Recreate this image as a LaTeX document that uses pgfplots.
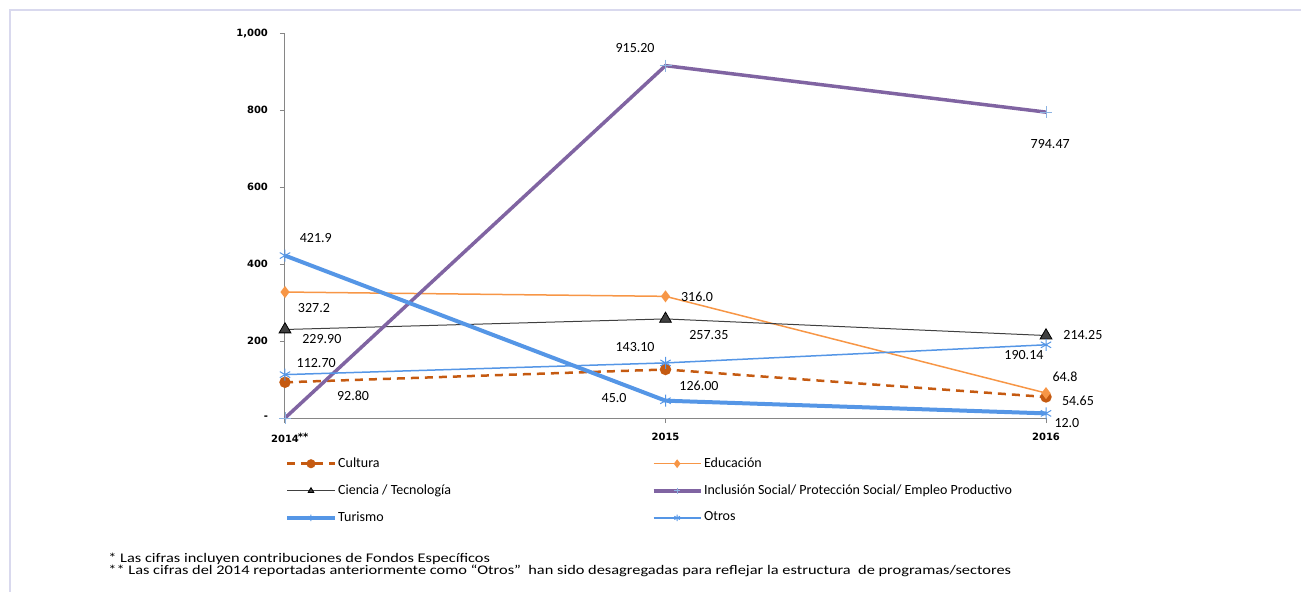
\documentclass[border=0pt]{standalone}
\usepackage{fontspec}
\setmainfont{Carlito}
\newfontfamily\tickfont{DejaVu Sans}
\usepackage{pgfplots}
\pgfplotsset{compat=1.18}

\definecolor{cult}{HTML}{C55A11}
\definecolor{educ}{HTML}{F79646}
\definecolor{cien}{HTML}{404040}
\definecolor{incl}{HTML}{8064A2}
\definecolor{inclmark}{HTML}{8DB4E2}
\definecolor{turi}{HTML}{5596E6}
\definecolor{axisgray}{HTML}{868686}
\definecolor{frame}{HTML}{D9D9EE}

\tikzset{lbl/.style={font=\fontsize{7}{8}\selectfont, inner sep=0pt}}

\begin{document}
\begin{tikzpicture}
\useasboundingbox (-142.5pt,-86.5pt) rectangle (508pt,209pt);
\draw[frame, line width=0.6pt] (-137.5pt,-90pt) -- (-137.5pt,204pt) -- (510pt,204pt);

\begin{axis}[
    at={(0,0)}, anchor=south west,
    scale only axis, width=380.5pt, height=192.5pt,
    xmin=0, xmax=2, ymin=0, ymax=1000,
    axis x line*=bottom, axis y line*=left,
    axis line style={draw=axisgray, line width=0.5pt},
    xtick={0,1,2}, xticklabels={2014\rlap{\kern-0.5pt\raisebox{1pt}{**}},2015,2016},
    ytick={0,200,...,1000}, yticklabels={-,200,400,600,800,{1,000}},
    tick align=outside, major tick length=2.5pt,
    tick style={axisgray, line width=0.5pt},
    ticklabel style={font=\tickfont\bfseries\fontsize{5}{6}\selectfont},
    yticklabel style={xshift=-2.5pt},
    xticklabel style={yshift=-1.5pt},
    clip=false,
    legend columns=2,
    legend cell align=left,
    legend style={at={(axis description cs:0.0,-0.097)}, anchor=north west,
        draw=none, fill=none, inner sep=0pt,
        font=\fontsize{7}{8}\selectfont,
        nodes={inner sep=0.8pt}, row sep=5.6pt},
    legend image code/.code={\draw[mark repeat=2,mark phase=2,mark size=1.6pt] plot coordinates {(0pt,0pt)(11.8pt,0pt)(23.6pt,0pt)};},
]
\addplot[cult, line width=1.25pt, dash pattern=on 4pt off 3pt, mark=*, mark size=2.2pt, mark options={solid, fill=cult, draw=cult}]
    coordinates {(0,92.80)(1,126.00)(2,54.65)};
\addlegendentry{\makebox[156pt][l]{Cultura}}
\addplot[educ, line width=0.75pt, mark=diamond*, mark size=2.4pt, mark options={fill=educ}]
    coordinates {(0,327.2)(1,316.0)(2,64.8)};
\addlegendentry{Educación}
\addplot[cien, line width=0.5pt, mark=triangle*, mark size=3.4pt, mark options={fill=cien, draw=black, line width=0.4pt}]
    coordinates {(0,229.90)(1,257.35)(2,214.25)};
\addlegendentry{\makebox[156pt][l]{Ciencia / Tecnología}}
\addplot[incl, line width=1.75pt, mark=+, mark size=3pt, mark options={draw=inclmark, line width=0.4pt}]
    coordinates {(0,0)(1,915.20)(2,794.47)};
\addlegendentry{Inclusión Social/ Protección Social/ Empleo Productivo}
\addplot[turi, line width=2pt, mark=asterisk, mark size=3pt, mark options={line width=0.5pt}]
    coordinates {(0,421.9)(1,45.0)(2,12.0)};
\addlegendentry{\makebox[156pt][l]{Turismo}}
\addplot[turi, line width=0.75pt, mark=asterisk, mark size=3pt, mark options={line width=0.5pt}]
    coordinates {(0,112.70)(1,143.10)(2,190.14)};
\addlegendentry{Otros}

\node[lbl] at (axis cs:0.081,467.5) {421.9};
\node[lbl] at (axis cs:0.076,286) {327.2};
\node[lbl] at (axis cs:0.097,205) {229.90};
\node[lbl] at (axis cs:0.082,143) {112.70};
\node[lbl] at (axis cs:0.179,57) {92.80};
\node[lbl] at (axis cs:0.92,961) {915.20};
\node[lbl] at (axis cs:1.083,314) {316.0};
\node[lbl] at (axis cs:1.114,216) {257.35};
\node[lbl] at (axis cs:0.92,184) {143.10};
\node[lbl] at (axis cs:1.088,83) {126.00};
\node[lbl] at (axis cs:0.865,52) {45.0};
\node[lbl] at (axis cs:2.011,712) {794.47};
\node[lbl] at (axis cs:2.097,216) {214.25};
\node[lbl] at (axis cs:1.942,164) {190.14};
\node[lbl] at (axis cs:2.05,106) {64.8};
\node[lbl] at (axis cs:2.084,44) {54.65};
\node[lbl] at (axis cs:2.055,-13) {12.0};
\end{axis}

\node[anchor=base west, inner sep=0pt, font=\fontsize{6.6}{7}\selectfont] at (-88.5pt,-72pt)
    {\scalebox{1.24}[1]{* Las cifras incluyen contribuciones de Fondos Específicos}};
\node[anchor=base west, inner sep=0pt, font=\fontsize{6.6}{7}\selectfont] at (-88.5pt,-78.3pt)
    {\scalebox{1.24}[1]{** Las cifras del 2014 reportadas anteriormente como “Otros”~ han sido desagregadas para reflejar la estructura~ de programas/sectores}};
\end{tikzpicture}
\end{document}
